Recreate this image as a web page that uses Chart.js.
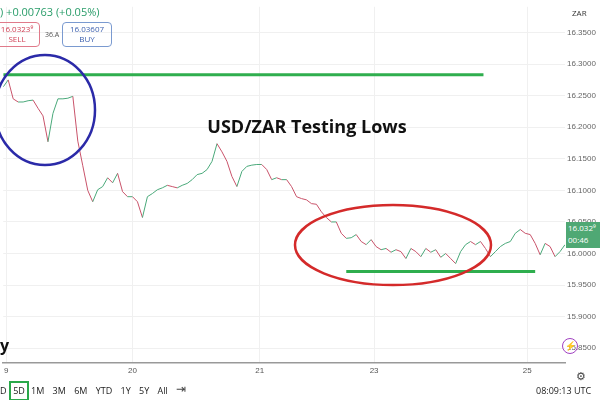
<!DOCTYPE html>
<html><head><meta charset="utf-8">
<script src="https://cdn.jsdelivr.net/npm/chart.js@4"></script>
<style>
body{margin:0;width:600px;height:400px;overflow:hidden;background:#fff;font-family:"Open Sans",sans-serif;position:relative}
#c{position:absolute;left:0;top:0}
.t{position:absolute;white-space:nowrap}
</style></head><body>
<canvas id="c" width="600" height="400"></canvas>
<div class="t" style="left:0;top:4px;font-size:11px;color:#2a9d6a">) +0.00763 (+0.05%)</div>
<div class="t" style="left:-6px;top:22px;width:44px;height:22px;border:1px solid #e07a8a;border-radius:4px;font-size:8px;color:#d04055;text-align:center;line-height:10px;padding-top:1px">16.0323⁹<br>SELL</div>
<div class="t" style="left:45px;top:30px;font-size:7px;color:#555">36.A</div>
<div class="t" style="left:62px;top:22px;width:48px;height:22px;border:1px solid #7a9ad0;border-radius:4px;font-size:8px;color:#3b5fae;text-align:center;line-height:10px;padding-top:1px">16.03607<br>BUY</div>
<div class="t" style="left:572px;top:7px;font-size:8px;color:#333">ZAR</div>
<div class="t" style="left:0;top:334px;font-size:16px;font-weight:bold;color:#111">y</div>
<div class="t" style="left:566px;top:222px;width:34px;height:26px;background:#4fa874;color:#fff;font-size:8px;line-height:12px;padding-left:2px">16.032⁹<br>00:46</div>
<div class="t" style="left:562px;top:338px;width:14px;height:14px;border:1.5px solid #a040c0;border-radius:50%;color:#a040c0;font-size:9px;text-align:center;line-height:14px">⚡</div>
<div class="t" style="left:576px;top:368px;font-size:11px;color:#444">⚙</div>
<div class="t" style="left:0;top:384px;font-size:9px;color:#222">D</div>
<div class="t" style="left:9px;top:381px;width:16px;height:16px;border:2px solid #2aa84a;font-size:9px;line-height:16px;text-align:center;color:#222">5D</div>
<div class="t" style="left:31px;top:384px;font-size:9px;color:#222;word-spacing:6px">1M 3M 6M YTD 1Y 5Y All</div>
<div class="t" style="left:176px;top:380px;font-size:12px;color:#444">⇥</div>
<div class="t" style="left:536px;top:384px;font-size:9px;color:#222">08:09:13 UTC</div>
<script>
// close prices sampled along the time axis (one per step)
const prices=[16.264,16.275,16.245,16.240,16.240,16.242,16.243,16.230,16.218,16.177,16.222,16.245,16.245,16.246,16.249,16.178,16.139,16.100,16.082,16.101,16.106,16.120,16.112,16.127,16.098,16.090,16.090,16.082,16.057,16.090,16.095,16.101,16.104,16.108,16.106,16.104,16.108,16.111,16.117,16.125,16.127,16.133,16.146,16.174,16.161,16.146,16.122,16.106,16.130,16.138,16.140,16.141,16.141,16.133,16.117,16.120,16.117,16.117,16.106,16.090,16.087,16.085,16.079,16.078,16.066,16.057,16.050,16.050,16.032,16.024,16.025,16.030,16.019,16.014,16.022,16.011,16.006,16.008,16.002,16.006,16.003,15.992,16.008,16.003,15.995,16.008,16.002,16.006,15.994,16.000,15.992,15.984,16.003,16.014,16.019,16.014,16.019,16.008,15.995,16.003,16.011,16.016,16.019,16.032,16.038,16.032,16.030,16.016,15.998,16.016,16.011,15.995,16.003,16.014,16.019,16.022,16.016,16.011,16.019,16.032];
const dayLabels=["9","20","21","23","25"];
const dayPos=[0.6,26,51.6,74.6,105.4];
const yTicks=[15.85,15.9,15.95,16.0,16.05,16.1,16.15,16.2,16.25,16.3,16.35];
const resistance=16.2832, support=15.9715;

const pts=prices.map((v,i)=>({x:i,y:v}));
const deco={id:'deco',afterDatasetsDraw(ch){
  const c=ch.ctx;c.save();
  c.lineWidth=2.5;c.strokeStyle='#2b2aa8';
  c.beginPath();c.ellipse(45,110,50,55,0,0,Math.PI*2);c.stroke();
  c.strokeStyle='#d42a2a';
  c.beginPath();c.ellipse(393,245,98,40,0,0,Math.PI*2);c.stroke();
  c.fillStyle='#111';c.font='bold 18px "Open Sans"';c.textAlign='center';
  c.fillText('USD/ZAR Testing Lows',307,133);
  c.restore();
}};
new Chart(document.getElementById('c'),{
  type:'line',
  data:{datasets:[
    {data:pts,borderWidth:1,pointRadius:0,tension:0,
     segment:{borderColor:s=>s.p1.parsed.y>=s.p0.parsed.y?'#4aa97a':'#c9536a'}},
    {data:[{x:0,y:resistance},{x:96.6,y:resistance}],borderColor:'#2fae4e',borderWidth:3,pointRadius:0},
    {data:[{x:69,y:support},{x:107,y:support}],borderColor:'#2fae4e',borderWidth:3,pointRadius:0}
  ]},
  options:{animation:false,responsive:false,
    layout:{padding:{top:0,bottom:20,left:0,right:0}},
    plugins:{legend:{display:false},tooltip:{enabled:false}},
    scales:{
      x:{type:'linear',min:0,max:113,
        afterBuildTicks:a=>{a.ticks=dayPos.map(v=>({value:v}));},
        ticks:{callback:(v,i)=>dayLabels[i],color:'#555',font:{size:8},maxRotation:0,autoSkip:false,padding:4},
        grid:{color:'#f0f0f0',drawTicks:false},border:{color:'#999',width:1.5}},
      y:{position:'right',min:15.8275,max:16.3908,
        afterBuildTicks:a=>{a.ticks=yTicks.map(v=>({value:v}));},
        afterFit:a=>{a.width=35;},
        ticks:{callback:v=>v.toFixed(4),color:'#666',font:{size:8},padding:2},
        grid:{color:'#f0f0f0',drawTicks:false},border:{display:false}}
    }},
  plugins:[deco]
});
</script></body></html>
